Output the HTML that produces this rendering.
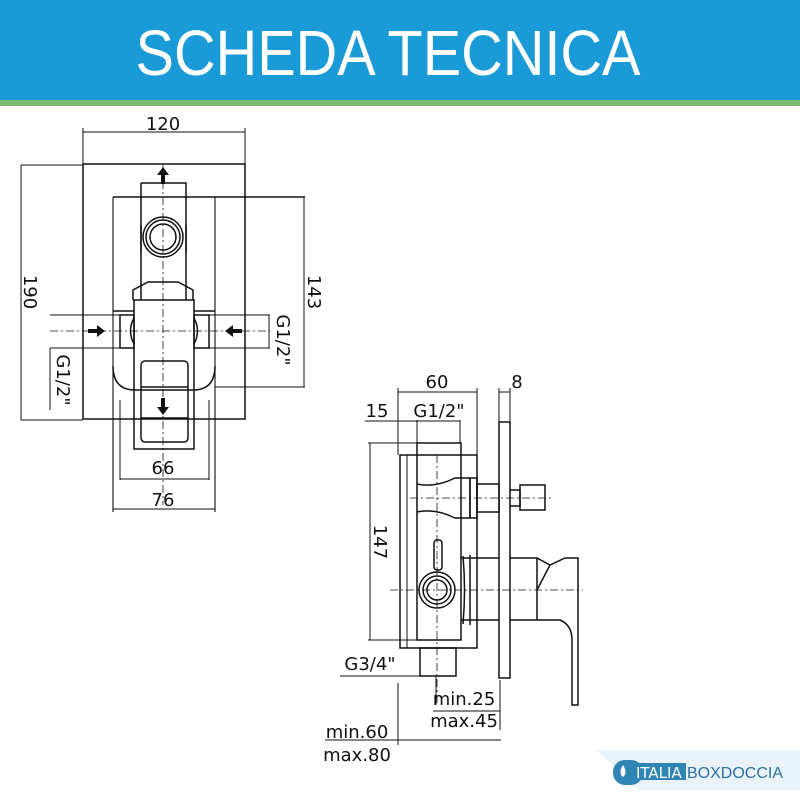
<!DOCTYPE html>
<html><head><style>
html,body{margin:0;padding:0;background:#fff;width:800px;height:800px;overflow:hidden}
svg{display:block;font-family:"DejaVu Sans","Liberation Sans",sans-serif}
</style></head><body>
<svg width="800" height="800" viewBox="0 0 800 800" xmlns="http://www.w3.org/2000/svg">
<rect x="0" y="0" width="800" height="101" fill="#1a9bd7"/>
<rect x="0" y="100" width="800" height="6" fill="#7dbb6e"/>
<text x="388" y="75" fill="#fff" font-size="64" text-anchor="middle" textLength="505" lengthAdjust="spacingAndGlyphs" font-family="Liberation Sans,sans-serif">SCHEDA TECNICA</text>

<g stroke="#111" fill="none" stroke-width="1.5">
<!-- LEFT VIEW -->
<line x1="83" y1="132" x2="245" y2="132" stroke-width="1"/>
<line x1="83" y1="128" x2="83" y2="164" stroke-width="1"/>
<line x1="245" y1="128" x2="245" y2="164" stroke-width="1"/>
<rect x="83" y="164" width="162" height="255"/>
<line x1="21" y1="165" x2="83" y2="165" stroke-width="1"/>
<line x1="21" y1="420" x2="83" y2="420" stroke-width="1"/>
<line x1="21" y1="165" x2="21" y2="420" stroke-width="1"/>
<line x1="113" y1="197" x2="305" y2="197"/>
<line x1="113" y1="197" x2="113" y2="512" stroke-width="1.1"/>
<line x1="215" y1="197" x2="215" y2="512" stroke-width="1.1"/>
<line x1="215" y1="387" x2="305" y2="387" stroke-width="1"/>
<line x1="304" y1="197" x2="304" y2="387" stroke-width="1"/>
<line x1="113" y1="509" x2="215" y2="509" stroke-width="1"/>
<line x1="120" y1="400" x2="120" y2="480" stroke-width="1"/>
<line x1="209" y1="400" x2="209" y2="480" stroke-width="1"/>
<line x1="120" y1="479" x2="209" y2="479" stroke-width="1"/>
<path d="M141 183 H186 V300 M141 183 V300"/>
<path d="M141 225 V252 M186 225 V252"/>
<circle cx="163" cy="237" r="20"/><circle cx="163" cy="237" r="17"/><circle cx="163" cy="237" r="13"/>
<path d="M133 300 V290 L148 282 H178 L193 290 V300"/>
<rect x="134" y="300" width="60" height="149"/>
<path d="M113 311 H134 M194 311 H215 M113 366 Q113 390 135 390 H193 Q215 390 215 366"/>
<rect x="120" y="315" width="14" height="33"/><rect x="194" y="315" width="15" height="33"/>
<path d="M134 318 Q127 331 134 344 M194 318 Q201 331 194 344"/>
<rect x="141" y="361" width="47" height="81" rx="4"/>
<line x1="141" y1="387" x2="188" y2="387"/><line x1="141" y1="418" x2="188" y2="418"/>
<line x1="50" y1="315" x2="120" y2="315" stroke-width="1"/>
<line x1="50" y1="348" x2="120" y2="348" stroke-width="1"/>
<line x1="50" y1="348" x2="50" y2="410" stroke-width="1"/>
<line x1="209" y1="315" x2="270" y2="315" stroke-width="1"/>
<line x1="209" y1="348" x2="270" y2="348" stroke-width="1"/>
<line x1="269" y1="315" x2="269" y2="348" stroke-width="1"/>
<line x1="163" y1="165" x2="163" y2="505" stroke-dasharray="8,3,2,3" stroke-width="0.8"/>
<line x1="50" y1="331" x2="270" y2="331" stroke-dasharray="8,3,2,3" stroke-width="0.8"/>

<!-- RIGHT VIEW -->
<line x1="398" y1="392" x2="477" y2="392" stroke-width="1"/>
<line x1="398" y1="388" x2="398" y2="455" stroke-width="1"/>
<line x1="477" y1="388" x2="477" y2="455" stroke-width="1"/>
<line x1="499" y1="392" x2="510" y2="392" stroke-width="1"/>
<line x1="499" y1="388" x2="499" y2="422" stroke-width="1"/>
<line x1="510" y1="388" x2="510" y2="422" stroke-width="1"/>
<line x1="365" y1="421" x2="460" y2="421" stroke-width="1"/>
<line x1="417" y1="420" x2="417" y2="443" stroke-width="1"/>
<line x1="460" y1="420" x2="460" y2="443" stroke-width="1"/>
<rect x="499" y="422" width="11" height="256"/>
<rect x="400" y="455" width="77" height="193"/>
<line x1="407" y1="455" x2="407" y2="648" stroke-width="1"/>
<rect x="417" y="443" width="44" height="197"/>
<line x1="368" y1="443" x2="417" y2="443" stroke-width="1"/>
<line x1="368" y1="640" x2="417" y2="640" stroke-width="1"/>
<line x1="370" y1="443" x2="370" y2="640" stroke-width="1"/>
<path d="M417 484 Q435 488 455 478 H470 V518 H455 Q435 508 417 512"/>
<rect x="470" y="478" width="7" height="40"/>
<rect x="477" y="484" width="22" height="28"/>
<path d="M510 490 H520 V506 H510"/>
<rect x="520" y="485" width="25" height="25"/>
<line x1="410" y1="498" x2="552" y2="498" stroke-dasharray="8,3,2,3" stroke-width="0.8"/>
<rect x="434" y="540" width="8" height="30" rx="3"/>
<circle cx="437" cy="590" r="18"/><circle cx="437" cy="590" r="14"/><circle cx="437" cy="590" r="10"/>
<path d="M461 558 H499 M461 620 H499 M470 555 V625 M463 556 Q466 590 463 624"/>
<path d="M510 558 H537 L550 565 L565 558 H578 V705 H572 V640 Q572 625 560 620 H510"/>
<path d="M537 558 V620 M550 565 L537 590"/>
<line x1="390" y1="590" x2="583" y2="590" stroke-dasharray="8,3,2,3" stroke-width="0.8"/>
<line x1="437" y1="455" x2="437" y2="705" stroke-dasharray="8,3,2,3" stroke-width="0.8"/>
<rect x="420" y="648" width="36" height="28"/>
<line x1="340" y1="676" x2="456" y2="676" stroke-width="1"/>
<line x1="436" y1="676" x2="436" y2="705" stroke-width="1"/>
<line x1="433" y1="711" x2="500" y2="711" stroke-width="1"/>
<line x1="500" y1="680" x2="500" y2="730" stroke-width="1"/>
<line x1="398" y1="683" x2="398" y2="745" stroke-width="1"/>
<line x1="325" y1="740" x2="501" y2="740" stroke-width="1"/>
</g>

<g fill="#111" stroke="none">
<path d="M163 167 l-6 8 h4 v9 h4 v-9 h4 z"/>
<path d="M163 415 l-6 -8 h4 v-9 h4 v9 h4 z"/>
<path d="M105 331 l-8 -6 v4 h-9 v4 h9 v4 z"/>
<path d="M225 331 l8 -6 v4 h9 v4 h-9 v4 z"/>
</g>

<g fill="#111" font-size="18" text-anchor="middle">
<text x="163" y="130">120</text>
<text x="163" y="474">66</text>
<text x="163" y="506">76</text>
<text transform="translate(24,292) rotate(90)">190</text>
<text transform="translate(308,292) rotate(90)">143</text>
<text transform="translate(57,380) rotate(90)">G1/2"</text>
<text transform="translate(277,340) rotate(90)">G1/2"</text>
<text x="437" y="388">60</text>
<text x="517" y="388">8</text>
<text x="377" y="417">15</text>
<text x="439" y="417">G1/2"</text>
<text transform="translate(374,542) rotate(90)">147</text>
<text x="370" y="670">G3/4"</text>
<text x="464" y="705">min.25</text>
<text x="464" y="727">max.45</text>
<text x="357" y="738">min.60</text>
<text x="357" y="761">max.80</text>
</g>

<polygon points="596,750 800,750 800,790 640,790" fill="#eaf2fa"/>
<rect x="613" y="760" width="30" height="25" rx="12" fill="#2f86b5"/>
<path d="M623 765 q-5 8 0 12 q5 -4 0 -12z" fill="#fff"/>
<rect x="632" y="763" width="54" height="17" fill="#2f86b5"/>
<text x="636" y="778" fill="#fff" font-size="15">ITALIA</text>
<text x="687" y="778" fill="#2a6fa0" font-size="16" font-family="Liberation Sans,sans-serif">BOXDOCCIA</text>
</svg>
</body></html>
